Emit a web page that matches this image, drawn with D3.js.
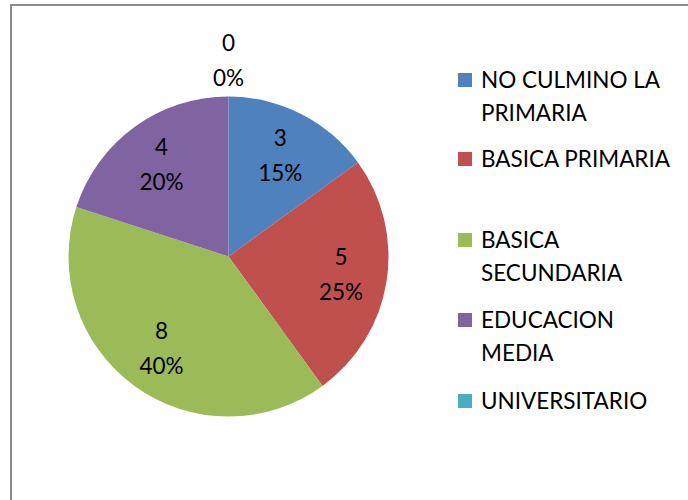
<!DOCTYPE html>
<html><head><meta charset="utf-8">
<script src="https://cdn.jsdelivr.net/npm/d3@7"></script>
<style>html,body{margin:0;padding:0;background:#fff;}svg{display:block;font-family:Lato,"Open Sans",sans-serif;}</style>
</head><body><svg id="c" width="688" height="500"></svg>
<script>
const categories = ["NO CULMINO LA PRIMARIA","BASICA PRIMARIA","BASICA SECUNDARIA","EDUCACION MEDIA","UNIVERSITARIO"];
const legendLines = [["NO CULMINO LA","PRIMARIA"],["BASICA PRIMARIA"],["BASICA","SECUNDARIA"],["EDUCACION","MEDIA"],["UNIVERSITARIO"]];
const values = [3,5,8,4,0];
const colors = ["#4F81BD","#C0504D","#9BBB59","#8064A2","#4BACC6"];

const svg = d3.select("#c");
const W = 688, H = 500;
svg.append("rect").attr("x",11).attr("y",5).attr("width",W+20).attr("height",H+20)
  .attr("fill","#fff").attr("stroke","#8a8a8a").attr("stroke-width",2);

const cx = 228.5, cy = 256.5, r = 160;
const total = d3.sum(values);
const pie = d3.pie().sort(null).value(d=>d)(values);
const arc = d3.arc().innerRadius(0).outerRadius(r);
const g = svg.append("g").attr("transform",`translate(${cx},${cy})`);
g.selectAll("path").data(pie).join("path")
  .attr("d",arc).attr("fill",(d,i)=>colors[i]);

const labelArc = d3.arc().innerRadius(114).outerRadius(114);
const outArc = d3.arc().innerRadius(196).outerRadius(196);
const fs = 22.5;
const pct = d3.format(".0%");
pie.forEach((d,i)=>{
  const c = (d.value===0 ? outArc : labelArc).centroid(d);
  const t = g.append("text").attr("text-anchor","middle").attr("font-size",fs).attr("fill","#000");
  t.append("tspan").attr("x",c[0]).attr("y",c[1]-17.5).attr("dy","0.36em").text(values[i]);
  t.append("tspan").attr("x",c[0]).attr("y",c[1]+17.5).attr("dy","0.36em").text(pct(values[i]/total));
});

const legY = [80,159,240,320,401];
const lg = svg.append("g");
legendLines.forEach((lines,i)=>{
  lg.append("rect").attr("x",458).attr("y",legY[i]-7).attr("width",14).attr("height",14).attr("fill",colors[i]);
  const t = lg.append("text").attr("font-size",fs).attr("fill","#000");
  lines.forEach((s,j)=>{
    t.append("tspan").attr("x",481).attr("y",legY[i]+j*33).attr("dy","0.36em").text(s);
  });
});
</script></body></html>
